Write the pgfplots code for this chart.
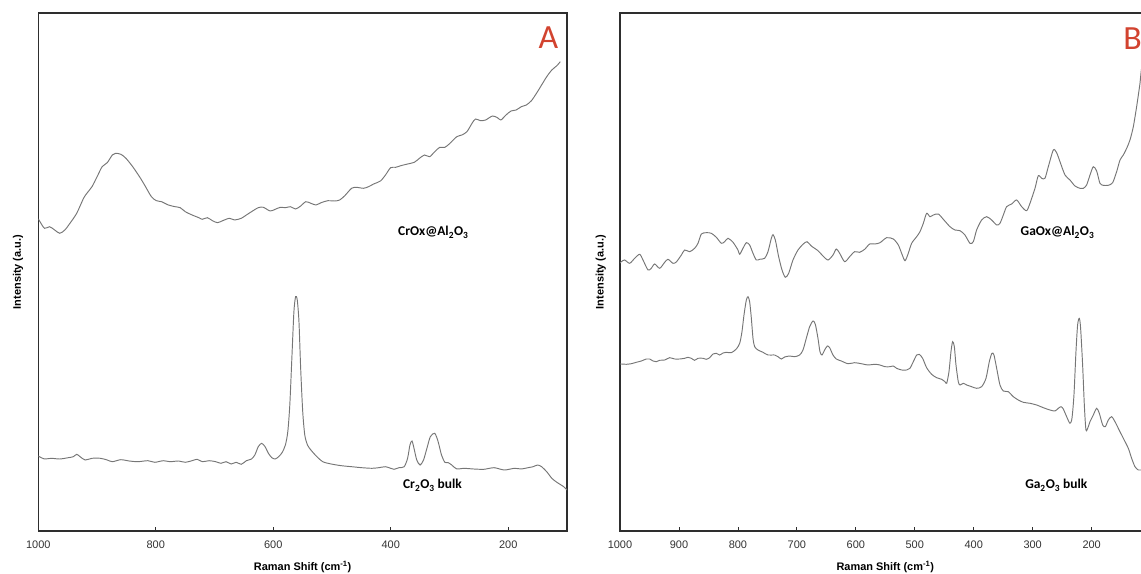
\documentclass[border=0pt]{standalone}
\usepackage{pgfplots}
\pgfplotsset{compat=1.18}
\usepackage{fontspec}
\setmainfont{Liberation Sans}
\newfontfamily\calib{Carlito}
\definecolor{curve}{HTML}{767676}
\definecolor{frame}{HTML}{2E2E2E}
\definecolor{lblred}{HTML}{D2432F}
\pgfplotsset{
  ramanax/.style={
    scale only axis, height=518bp,
    xmin=100, xmax=1000, ymin=0, ymax=518, x dir=reverse,
    axis line style={draw=frame, line width=1.4bp},
    ytick=\empty, xtick pos=bottom, tick align=inside, major tick length=4bp,
    every tick/.style={draw=frame, line width=0.8bp},
    ticklabel style={font=\fontsize{11}{13}\selectfont, text=black!80},
    xticklabel style={yshift=-6bp},
    /pgf/number format/assume math mode=true,
    /pgf/number format/1000 sep={},
    xlabel={Raman Shift (cm\textsuperscript{-1})},
    xlabel style={font=\bfseries\fontsize{11}{13}\selectfont, at={(axis description cs:0.5,-0.0753)}, anchor=base},
    ylabel={Intensity (a.u.)},
    ylabel style={font=\bfseries\fontsize{11}{13}\selectfont, anchor=center},
  },
  spec/.style={curve, line width=0.95bp, smooth, tension=0.45},
}
\begin{document}
\begin{tikzpicture}
\useasboundingbox (0,0) rectangle (1141bp,574bp);
\clip (0,0) rectangle (1141bp,574bp);

% ---------------- Panel A ----------------
\begin{axis}[ramanax, width=528.75bp, at={(38.3bp,43bp)}, anchor=south west,
  xtick={1000,800,600,400,200},
  ylabel style={at={(axis description cs:-0.0384,0.5)}}]
\addplot[spec] coordinates {
(1000,312)(998.1,310.3)(989.5,302.7)(980.8,304.3)(972.1,301)(963.5,297.7)(954.8,301)(946.1,307.7)(934.6,317.7)(923.0,332.7)(917.3,337.7)(908.6,344.3)(899.9,354.3)(891.3,364.3)(882.6,368.3)(874.0,376)(868.2,377.7)(859.5,376.7)(850.8,372.7)(839.3,364.3)(827.7,354.3)(819.1,346)(807.5,334.3)(798.9,330.3)(790.2,329.3)(778.6,326)(767.1,324.3)(758.4,323.3)(749.8,319.3)(738.2,316)(726.7,313.3)(720.9,311.7)(712.2,313.3)(703.6,310.3)(694.9,308.3)(686.2,310.3)(674.7,312.7)(666.0,311)(654.5,312.7)(645.8,316)(637.1,319.3)(625.6,323.3)(616.9,323.7)(605.4,320)(596.7,321.7)(588.0,323.7)(579.4,323.3)(570.7,324.3)(562.0,322)(553.4,325)(544.7,329.3)(536.0,327.7)(527.4,326)(518.7,328.3)(507.2,330.3)(495.6,330)(487.0,331)(478.3,335.3)(466.7,342.7)(458.1,343.7)(446.5,342.7)(437.9,344.3)(429.2,347)(417.6,350)(409.0,356)(400.3,363.3)(391.6,363.7)(383.0,365.3)(371.4,367)(359.9,368.7)(351.2,372.7)(342.6,376)(333.9,374.3)(325.2,379.3)(316.6,383.7)(307.9,383.7)(299.2,387.7)(287.7,394.3)(279.0,396)(270.4,399.3)(261.7,407.7)(255.9,412)(247.3,410.3)(238.6,411)(227.0,415)(218.4,413.3)(212.6,411)(203.9,416)(195.3,420)(186.6,421)(177.9,424.3)(169.3,426)(160.6,430.3)(152.0,437.7)(143.3,446)(134.6,454.3)(125.9,461)(117.3,465.3)(111.5,469.3)
};
\addplot[spec] coordinates {
(1000,75)(998.1,74.3)(989.5,72)(977.9,72.7)(963.5,72)(949.0,73.3)(940.4,74.3)(934.6,76.7)(928.8,74.3)(920.2,71)(908.6,72.7)(894.2,72.7)(882.6,71)(874.0,69.3)(859.5,71.3)(845.1,70)(830.6,69.3)(813.3,70.3)(801.7,68.7)(787.3,70.3)(775.7,69.3)(761.3,70)(749.8,68.7)(738.2,70.3)(729.5,71.7)(720.9,69.3)(709.3,70.3)(697.8,69.3)(689.1,67.7)(680.4,69.3)(671.8,67)(663.1,68.7)(654.5,66.7)(645.8,70.3)(637.1,72)(631.4,76)(625.6,84.3)(619.8,87.7)(614.0,84.3)(608.3,77.7)(602.5,73.3)(596.7,72)(590.9,74.3)(585.1,78.3)(579.4,86)(575.3,99.3)(571.9,126)(568.4,172.7)(564.9,219.3)(562.0,234.3)(559.2,231)(556.3,209.3)(553.4,162.7)(549.9,119.3)(546.4,96)(541.8,86)(536.0,81)(527.4,75.3)(515.8,69.3)(501.4,67)(484.1,65.3)(466.7,64.3)(449.4,63.3)(432.1,62.7)(420.5,63.3)(409.0,64.3)(400.3,62.7)(394.5,61.7)(385.9,63.3)(377.2,64.3)(371.4,72.7)(367.4,86)(363.9,90)(360.5,82.7)(355.8,71)(350.1,66)(344.3,71)(338.5,82.7)(332.7,94.3)(325.2,97.7)(319.4,89.3)(313.7,76)(307.9,68.7)(302.1,68.3)(296.3,66)(287.7,62)(276.1,62.7)(258.8,62)(241.5,61.7)(224.2,63.3)(206.8,61)(189.5,62.7)(177.9,62)(166.4,63.3)(157.7,64.3)(150.2,66)(143.3,64.3)(134.6,59.3)(125.9,52.7)(117.3,48.7)(105.7,44.3)(100,41)
};
\end{axis}

% ---------------- Panel B ----------------
\begin{axis}[ramanax, width=530.6bp, at={(620bp,43bp)}, anchor=south west,
  xtick={1000,900,800,700,600,500,400,300,200},
  ylabel style={at={(axis description cs:-0.0362,0.5)}}]
\addplot[spec] coordinates {
(1000,268)(997.7,269.3)(992.1,271)(983.6,267.7)(975.1,272.7)(966.6,276.7)(961.0,271)(952.5,261)(946.9,262.7)(941.2,267)(932.7,262.7)(924.2,268.7)(918.6,271.7)(910.1,267.7)(904.5,269)(895.9,276)(890.3,281)(881.8,279.3)(873.4,282.7)(867.7,287.7)(862.0,297)(853.6,298.3)(845.1,297.7)(836.6,293.7)(828.1,287.7)(822.5,289.3)(816.8,292.7)(808.3,288.7)(799.9,281)(797.0,276.7)(791.4,282.7)(785.7,288.3)(780.1,286)(774.4,277.7)(768.8,271)(763.1,271.7)(754.6,272.7)(749.0,279.3)(743.3,292.7)(740.5,296.3)(736.5,291)(730.9,274.3)(725.2,261)(719.6,253.7)(713.9,257.7)(706.6,271)(698.1,281)(689.6,286.7)(682.8,289.3)(675.5,285)(664.2,280.3)(655.7,275)(647.2,271)(638.7,276)(633.1,282)(627.4,277.7)(618.9,269.3)(610.5,274.3)(602.0,279.3)(593.5,278.7)(585.0,281.7)(576.5,287)(568.0,287)(559.0,288.3)(547.7,293.3)(536.4,292)(527.9,286)(522.3,277.7)(516.6,270.3)(511.0,277.7)(505.3,287.7)(496.8,294.3)(491.2,299.3)(485.5,307.7)(479.9,317.7)(474.2,314.3)(468.6,316)(460.1,317)(451.6,311.7)(440.3,304.3)(431.8,301)(423.3,300.3)(414.9,296)(406.4,287.7)(400.7,289.3)(395.1,301)(386.6,311)(378.1,314.3)(369.6,311)(361.1,306)(355.5,307.7)(349.8,316)(344.2,324.3)(335.7,327)(327.2,331)(318.7,324.3)(310.3,320.3)(304.6,327.7)(296.1,342.7)(290.5,355.3)(284.8,352.7)(279.2,352.7)(273.5,364.3)(265.0,381)(259.4,378.3)(253.7,369.3)(245.2,356)(236.8,351)(228.3,345)(219.8,342.7)(214.1,342.7)(208.5,346)(202.8,356)(197.2,364.3)(191.5,360)(185.9,347.7)(180.2,345.7)(171.7,345.7)(164.4,348.3)(157.6,359.3)(151.9,371)(146.3,376)(140.6,382.7)(135.0,391)(129.3,404.3)(123.7,424.3)(118.0,447.7)(116.3,457.7)(110,490)(105,515)
};
\addplot[spec] coordinates {
(1000,167)(997.7,167)(989.3,166.7)(980.8,167.3)(972.3,168.7)(963.8,170)(955.3,172)(949.7,172)(944.0,170)(938.4,169.3)(932.7,170.7)(924.2,171)(915.8,173.3)(907.3,172)(898.8,172)(890.3,172.7)(884.7,173.7)(879.0,172.7)(873.4,170.7)(867.7,172.7)(859.2,172.7)(853.6,171.7)(847.9,173.3)(842.3,177)(836.6,177.7)(830.9,176)(825.3,178)(819.6,178.7)(811.2,178.3)(802.7,182)(797.0,187.7)(793.1,199.3)(789.7,216)(785.7,231)(782.9,234.3)(780.1,229.3)(777.2,212.7)(774.4,192.7)(771.6,184.3)(765.9,181)(757.5,178.7)(749.0,176)(737.7,176)(732.0,174.3)(726.4,172)(720.7,174)(712.2,175)(703.7,174.3)(695.3,176)(689.6,181)(684.0,192.7)(678.3,204.3)(672.6,210)(668.7,206.7)(664.2,192.7)(660.8,179.3)(657.4,176)(652.9,181)(648.3,185)(644.4,183.3)(638.7,176)(633.1,172)(624.6,170)(613.3,167.3)(602.0,168.3)(590.7,167.3)(579.4,166)(568.0,166.7)(559.0,166)(550.6,164.3)(542.1,164.3)(536.4,165)(530.8,162.7)(522.3,161)(513.8,161)(508.2,162.7)(502.5,169.3)(496.8,176)(492.3,176.7)(486.7,172.7)(479.9,163.3)(471.4,156.7)(462.9,153.3)(454.4,151.7)(448.8,149.3)(445.9,147.7)(442.0,159.3)(438.6,179.3)(435.8,189.3)(432.9,184.3)(430.1,166)(426.2,149.3)(423.3,146)(417.7,147.7)(412.0,146)(403.6,144.3)(395.1,142.7)(386.6,144.3)(379.2,152.7)(373.6,169.3)(369.1,177.7)(365.7,176)(361.1,162.7)(355.5,146)(349.8,140)(341.4,139.3)(332.9,134.3)(324.4,131)(315.9,128.7)(304.6,127.7)(293.3,126)(282.0,123.3)(270.7,121)(262.2,120)(256.5,122.7)(252.0,124.3)(248.1,122)(242.4,114.3)(236.8,107.7)(233.4,112.7)(230.0,136)(226.6,179.3)(223.8,206)(220.9,212.7)(218.7,202.7)(215.3,166)(212.4,126)(209.6,101)(205.7,104.3)(202.8,109.3)(197.2,116)(191.5,122.7)(187.0,117.7)(181.3,106)(176.8,104.3)(171.7,111)(166.1,114.3)(160.4,109.3)(154.8,102.7)(146.3,92.7)(137.8,82.7)(132.2,72.7)(126.5,64.3)(120.9,61)(116.3,61)(100,61)
};
\end{axis}

% panel letters and sample labels
\node[text=lblred, font=\calib\fontsize{34}{36}\selectfont, anchor=base] at (548.3bp,525.7bp) {A};
\node[text=lblred, font=\calib\fontsize{34}{36}\selectfont, anchor=base] at (1132.5bp,524bp) {B};
\node[font=\calib\bfseries\fontsize{13.5}{15}\selectfont, anchor=base] at (433.3bp,338bp) {CrOx@Al\textsubscript{2}O\textsubscript{3}};
\node[font=\calib\bfseries\fontsize{13.5}{15}\selectfont, anchor=base] at (432.5bp,85bp) {Cr\textsubscript{2}O\textsubscript{3} bulk};
\node[font=\calib\bfseries\fontsize{13.5}{15}\selectfont, anchor=base] at (1057.5bp,338bp) {GaOx@Al\textsubscript{2}O\textsubscript{3}};
\node[font=\calib\bfseries\fontsize{13.5}{15}\selectfont, anchor=base] at (1056.3bp,85bp) {Ga\textsubscript{2}O\textsubscript{3} bulk};
\end{tikzpicture}
\end{document}
